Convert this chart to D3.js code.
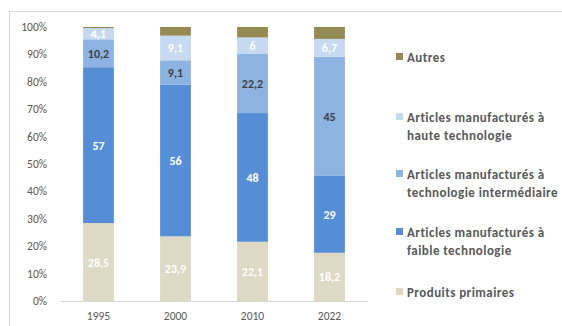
<!DOCTYPE html>
<html>
<head>
<meta charset="utf-8">
<script src="https://cdn.jsdelivr.net/npm/d3@7"></script>
<style>
  body { margin: 0; background: #fff; }
  text { font-family: Carlito, Lato, "Open Sans", sans-serif; }
</style>
</head>
<body>
<script>
// Données (en %)
const years = ['1995', '2000', '2010', '2022']
const series = ['Produits primaires', 'Articles manufacturés à faible technologie',
  'Articles manufacturés à technologie intermédiaire', 'Articles manufacturés à haute technologie', 'Autres']
const primaires = [28.5, 23.9, 22.1, 18.2]
const faible = [57, 56, 48, 29]
const intermediaire = [10.2, 9.1, 22.2, 45]
const haute = [4.1, 9.1, 6, 6.7]
const autres = [0.4, 3.2, 3.9, 4.5]
const yTicks = [0, 10, 20, 30, 40, 50, 60, 70, 80, 90, 100]

const colors = ['#DDD9C4', '#558ED5', '#8DB3E2', '#C6D9F1', '#948A54']
const labelColors = ['#fff', '#fff', '#404040', '#fff', null]

const rows = years.map((y, i) => ({
  year: y,
  s0: primaires[i], s1: faible[i], s2: intermediaire[i], s3: haute[i], s4: autres[i]
}))
const keys = ['s0', 's1', 's2', 's3', 's4']
const stacked = d3.stack().keys(keys).offset(d3.stackOffsetExpand)(rows)

const svg = d3.select('body')
  .append('svg')
  .attr('width', 562)
  .attr('height', 326)

// Cadre
svg.append('rect')
  .attr('x', 9.5).attr('y', 11.5)
  .attr('width', 600).attr('height', 400)
  .attr('fill', 'none').attr('stroke', '#D9D9D9')

const x = d3.scaleBand().domain(years).range([60, 368]).paddingInner(0.6).paddingOuter(0.3)
const y = d3.scaleLinear().domain([0, 1]).range([301, 27])

// Axe Y
svg.append('g')
  .selectAll('text')
  .data(yTicks)
  .enter()
  .append('text')
    .attr('x', 47)
    .attr('y', d => y(d / 100) + 4)
    .attr('text-anchor', 'end')
    .attr('font-size', 11.5)
    .attr('fill', '#595959')
    .text(d => d + '%')

// Barres
const layers = svg.append('g')
  .selectAll('g')
  .data(stacked)
  .enter()
  .append('g')
    .attr('fill', (d, i) => colors[i])

layers.selectAll('rect')
  .data(d => d)
  .enter()
  .append('rect')
    .attr('x', d => x(d.data.year))
    .attr('y', d => y(d[1]))
    .attr('width', x.bandwidth())
    .attr('height', d => y(d[0]) - y(d[1]))

// Étiquettes
const fmt = v => String(v).replace('.', ',')
stacked.forEach((layer, i) => {
  if (!labelColors[i]) return
  svg.append('g')
    .selectAll('text')
    .data(layer)
    .enter()
    .append('text')
      .attr('x', d => x(d.data.year) + x.bandwidth() / 2)
      .attr('y', d => (y(d[0]) + y(d[1])) / 2 + 4.5)
      .attr('text-anchor', 'middle')
      .attr('font-size', 12)
      .attr('font-weight', 'bold')
      .attr('fill', labelColors[i])
      .text(d => fmt(d.data[keys[i]]))
})

// Ligne de base
svg.append('line')
  .attr('x1', 60).attr('x2', 368)
  .attr('y1', 301.5).attr('y2', 301.5)
  .attr('stroke', '#D9D9D9')

// Axe X
svg.append('g')
  .selectAll('text')
  .data(years)
  .enter()
  .append('text')
    .attr('x', d => x(d) + x.bandwidth() / 2)
    .attr('y', 320)
    .attr('text-anchor', 'middle')
    .attr('font-size', 11.5)
    .attr('fill', '#595959')
    .text(d => d)

// Légende
const legend = [
  { i: 4, lines: ['Autres'], y: 57 },
  { i: 3, lines: ['Articles manufacturés à', 'haute technologie'], y: 117 },
  { i: 2, lines: ['Articles manufacturés à', 'technologie intermédiaire'], y: 174 },
  { i: 1, lines: ['Articles manufacturés à', 'faible technologie'], y: 232 },
  { i: 0, lines: ['Produits primaires'], y: 292 }
]
const lg = svg.append('g').selectAll('g').data(legend).enter().append('g')
lg.append('rect')
  .attr('x', 396).attr('y', d => d.y - 4)
  .attr('width', 7).attr('height', 7)
  .attr('fill', d => colors[d.i])
lg.append('text')
  .attr('font-size', 13)
  .attr('letter-spacing', 0.45)
  .attr('font-weight', 'bold')
  .attr('fill', '#595959')
  .selectAll('tspan')
  .data(d => d.lines.map((l, k) => ({ l, k, y: d.y })))
  .enter()
  .append('tspan')
    .attr('x', 407)
    .attr('y', t => t.y + 4.5 + t.k * 18)
    .text(t => t.l)
</script>
</body>
</html>
